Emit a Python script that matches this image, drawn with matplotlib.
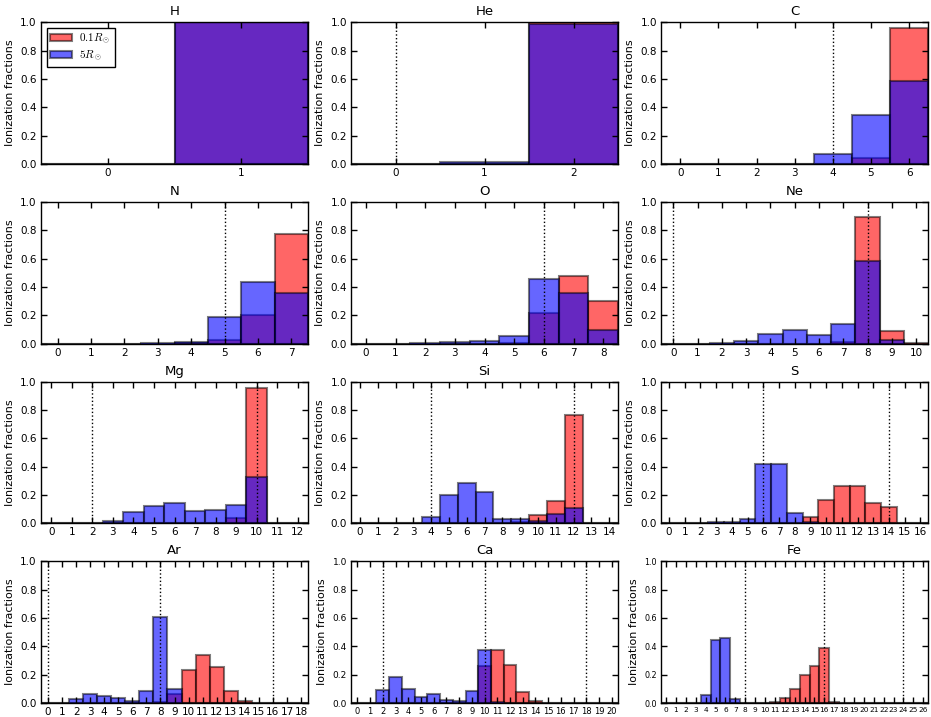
import matplotlib
matplotlib.use("Agg")
import matplotlib.pyplot as plt
import numpy as np

plt.rcParams['mathtext.fontset'] = 'cm'

elements = ["H", "He", "C", "N", "O", "Ne", "Mg", "Si", "S", "Ar", "Ca", "Fe"]

# ionization fractions, 0.1 R_sun (red)
red_H = [0.0, 1.0]
red_He = [0.0, 0.0, 1.0]
red_C = [0, 0, 0, 0, 0.0, 0.04, 0.96]
red_N = [0, 0, 0, 0, 0.003, 0.025, 0.20, 0.775]
red_O = [0, 0, 0, 0, 0, 0.002, 0.218, 0.478, 0.302]
red_Ne = [0, 0, 0, 0, 0, 0, 0, 0.012, 0.895, 0.092, 0.001]
red_Mg = [0, 0, 0, 0, 0, 0, 0, 0, 0.003, 0.037, 0.955, 0.003, 0]
red_Si = [0, 0, 0, 0, 0, 0, 0, 0, 0, 0.01, 0.058, 0.16, 0.765, 0.002, 0]
red_S = [0, 0, 0, 0, 0, 0, 0, 0, 0.003, 0.047, 0.163, 0.263, 0.265, 0.14, 0.112, 0, 0]
red_Ar = [0, 0, 0, 0, 0, 0, 0, 0, 0.01, 0.062, 0.23, 0.34, 0.255, 0.085, 0.015, 0.002, 0, 0, 0]
red_Ca = [0, 0, 0, 0, 0, 0, 0, 0, 0, 0.003, 0.258, 0.372, 0.265, 0.08, 0.012, 0, 0, 0, 0, 0, 0]
red_Fe = [0, 0, 0, 0, 0, 0, 0, 0, 0, 0, 0, 0.008, 0.037, 0.10, 0.195, 0.262, 0.39, 0.008, 0.002,
          0, 0, 0, 0, 0, 0, 0, 0]

# ionization fractions, 5 R_sun (blue)
blue_H = [0.0, 1.0]
blue_He = [0.0, 0.015, 0.985]
blue_C = [0, 0, 0, 0, 0.07, 0.345, 0.585]
blue_N = [0, 0, 0, 0.002, 0.01, 0.19, 0.435, 0.355]
blue_O = [0, 0, 0.002, 0.008, 0.018, 0.053, 0.455, 0.36, 0.098]
blue_Ne = [0, 0, 0.002, 0.018, 0.068, 0.097, 0.063, 0.14, 0.585, 0.028, 0]
blue_Mg = [0, 0, 0, 0.015, 0.083, 0.12, 0.145, 0.088, 0.093, 0.128, 0.325, 0.003, 0]
blue_Si = [0, 0, 0, 0, 0.045, 0.198, 0.285, 0.22, 0.032, 0.028, 0.015, 0.065, 0.107, 0, 0]
blue_S = [0, 0, 0.003, 0.012, 0.008, 0.028, 0.42, 0.418, 0.072, 0.01, 0.003, 0, 0, 0, 0, 0, 0]
blue_Ar = [0, 0, 0.03, 0.065, 0.053, 0.037, 0.012, 0.085, 0.605, 0.098, 0.003, 0, 0, 0, 0, 0, 0, 0, 0]
blue_Ca = [0, 0, 0.095, 0.185, 0.098, 0.04, 0.065, 0.022, 0.012, 0.085, 0.375, 0.008, 0.003,
           0, 0, 0, 0, 0, 0, 0, 0]
blue_Fe = [0, 0, 0, 0, 0.058, 0.448, 0.462, 0.025, 0, 0, 0, 0, 0, 0, 0, 0, 0, 0, 0,
           0, 0, 0, 0, 0, 0, 0, 0]

# shell closures (dotted lines)
closures_H = []
closures_He = [0]
closures_C = [4]
closures_N = [5]
closures_O = [6]
closures_Ne = [0, 8]
closures_Mg = [2, 10]
closures_Si = [4, 12]
closures_S = [6, 14]
closures_Ar = [0, 8, 16]
closures_Ca = [2, 10, 18]
closures_Fe = [8, 16, 24]

reds = [red_H, red_He, red_C, red_N, red_O, red_Ne, red_Mg, red_Si, red_S, red_Ar, red_Ca, red_Fe]
blues = [blue_H, blue_He, blue_C, blue_N, blue_O, blue_Ne, blue_Mg, blue_Si, blue_S, blue_Ar, blue_Ca, blue_Fe]
closures = [closures_H, closures_He, closures_C, closures_N, closures_O, closures_Ne, closures_Mg,
            closures_Si, closures_S, closures_Ar, closures_Ca, closures_Fe]

xtick_sizes = [7.5] * 10 + [6.0, 5.3]
ytick_sizes = [7.5] * 10 + [6.5, 5.8]

fig, axes = plt.subplots(4, 3, figsize=(9.31, 7.17), dpi=100)
fig.subplots_adjust(left=0.044, right=0.997, top=0.969, bottom=0.0195, wspace=0.161, hspace=0.268)

edge = (0, 0, 0, 0.5)
for i, ax in enumerate(axes.flat):
    r = reds[i]
    b = blues[i]
    x = np.arange(len(r))
    ax.bar(x, r, width=1.0, color=(1, 0, 0, 0.6), edgecolor=edge, linewidth=1.5,
           label=r'$0.1R_\odot$')
    ax.bar(x, b, width=1.0, color=(0, 0, 1, 0.6), edgecolor=edge, linewidth=1.5,
           label=r'$5R_\odot$')
    for c in closures[i]:
        ax.axvline(c, color='black', linestyle=':', linewidth=1.0)
    ax.set_xlim(-0.5, len(r) - 0.5)
    ax.set_ylim(0, 1.0)
    ax.set_xticks(x)
    ax.set_yticks([0.0, 0.2, 0.4, 0.6, 0.8, 1.0])
    ax.set_yticklabels(["0.0", "0.2", "0.4", "0.6", "0.8", "1.0"])
    ax.tick_params(axis='both', direction='in', top=True, right=True, length=4, width=1)
    ax.tick_params(axis='x', labelsize=xtick_sizes[i], pad=3)
    ax.tick_params(axis='y', labelsize=ytick_sizes[i], pad=3)
    ax.set_title(elements[i], fontsize=9.5, pad=5)
    ax.set_ylabel("Ionization fractions", fontsize=8, labelpad=4)
    for s in ax.spines.values():
        s.set_linewidth(1.0)
        s.set_color('black')
    if i == 0:
        leg = ax.legend(loc='upper left', fontsize=8, fancybox=False, framealpha=1,
                        edgecolor='black', borderpad=0.35, handlelength=1.9, handleheight=0.6,
                        labelspacing=0.25, handletextpad=0.7, borderaxespad=0.5)
        leg.get_frame().set_linewidth(1.0)

fig.savefig("out.png", dpi=100, facecolor='white')
